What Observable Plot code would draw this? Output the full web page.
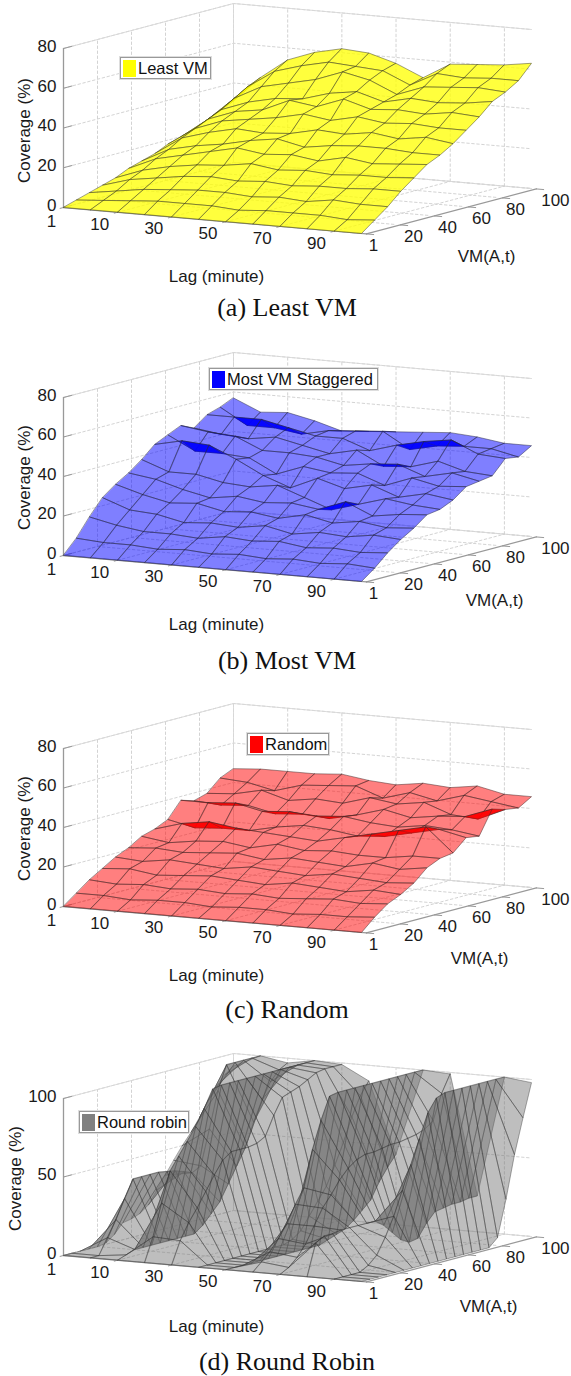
<!DOCTYPE html>
<html><head><meta charset="utf-8">
<script src="https://cdn.jsdelivr.net/npm/d3@7"></script>
<script src="https://cdn.jsdelivr.net/npm/@observablehq/plot@0.6"></script>
<style>
html,body{margin:0;padding:0;background:#fff;width:571px;height:1376px;overflow:hidden}
.panel{position:absolute;left:0;width:571px}
.panel svg{display:block;background:transparent}
.legend{position:absolute;background:#fff;border:1px solid #999;box-shadow:0 0 0 1px #ddd;font:16.5px "Liberation Sans",sans-serif;color:#111;white-space:nowrap;display:flex;align-items:center;box-sizing:border-box;padding-left:2px}
.legend i{display:inline-block;width:13px;height:17px;margin-right:2px}
.cap{position:absolute;left:0;width:574px;text-align:center;font:26px "Liberation Serif",serif;color:#111;line-height:28px}
</style></head><body>
<script>
const lagTicks = ["1","10","30","50","70","90"];
const vmTicks = ["1","20","40","60","80","100"];
const zTicksA = [0,20,40,60,80];
const zTicksD = [0,50,100];

// coverage by lag step (rows) and VM step (columns)
const leastVM = [
[0,2,4,6,8,11,13,15,18,20,22,25,28,31],
[0,3,6,10,13,17,20,24,27,30,33,37,41,44],
[0,4,8,12,16,20,23,28,32,35,38,44,50,54],
[0,5,9,14,18,23,25,31,34,37,41,47,54,59],
[0,5,10,15,19,26,28,30,36,43,42,50,57,62],
[0,5,10,14,21,24,30,31,39,41,46,55,56,61],
[0,4,9,15,19,25,27,34,37,46,48,52,55,57],
[0,5,10,14,20,23,29,33,40,42,44,46,49,51],
[0,5,9,15,19,26,30,35,38,43,47,51,56,59],
[0,5,11,15,20,24,30,33,39,42,46,52,55,60],
[0,4,10,16,20,25,29,35,38,44,47,53,56,61],
[0,5,10,16,21,26,29,33,38,43,49,52,56,63]];
const mostVM = [
[0,7,16,24,29,33,38,44,47,50,47,52,54,57],
[0,6,13,19,25,31,33,47,40,48,45,52,46,51],
[0,6,11,18,22,27,33,46,40,47,44,52,46,52],
[0,5,11,15,23,24,30,40,39,41,46,49,44,49],
[0,6,10,16,20,26,29,33,32,41,43,46,47,45],
[0,5,12,15,21,24,31,28,37,40,40,46,48,46],
[0,6,11,17,19,25,26,34,35,37,43,41,49,47],
[0,5,12,14,22,23,21,30,36,39,36,45,41,48],
[0,6,10,16,19,28,25,33,31,40,37,48,44,49],
[0,5,11,15,21,22,29,28,36,35,41,50,45,48],
[0,6,10,17,19,24,27,31,33,38,37,44,45,46],
[0,5,11,16,20,25,26,29,34,35,36,43,42,46]];
const randomVM = [
[0,5,10,14,18,21,25,27,30,38,36,38,44,47],
[0,5,9,15,17,22,23,31,27,38,35,39,43,48],
[0,4,10,13,19,21,25,33,28,39,36,42,40,48],
[0,5,9,14,18,22,26,31,28,36,33,38,44,48],
[0,5,10,15,17,23,24,30,31,37,34,40,45,49],
[0,4,9,14,19,21,27,29,33,36,33,39,46,47],
[0,5,10,13,18,23,25,28,32,37,36,43,41,46],
[0,5,9,15,17,22,26,31,30,35,40,41,45,48],
[0,4,10,14,19,21,25,34,31,34,37,43,42,47],
[0,5,11,13,18,24,25,37,34,36,39,38,46,49],
[0,5,10,15,17,22,27,40,37,35,40,37,44,46],
[0,6,11,14,18,24,27,28,34,33,45,43,42,46]];
const roundRobin = [
[0,0,0,0,0,1,5,11,12,14,18,26,34,42,50,57,65,74,82,88,92],
[0,0,10,20,32,43,43,43,43,42,41,39,37,40,62,85,100,100,100,100,100],
[0,2,4,4,4,4,4,4,4,4,8,14,20,30,40,50,65,78,88,94,97],
[0,15,35,54,62,70,78,88,99,100,100,100,100,100,100,100,100,100,100,100,100],
[0,14,24,32,41,50,58,62,62,62,63,66,78,88,90,92,95,98,99,99,99],
[0,0,0,0,0,0,0,0,0,0,0,2,6,14,22,30,42,55,70,82,90],
[0,0,0,0,0,0,0,0,0,0,0,0,2,4,6,10,15,20,30,38,45],
[0,5,10,17,25,36,45,68,85,99,100,100,100,100,100,100,100,100,100,100,100],
[0,3,8,15,25,35,42,50,56,60,62,62,63,64,64,65,66,68,72,88,99],
[0,20,23,23,24,24,24,24,24,20,14,8,5,6,14,20,21,22,22,23,23],
[0,0,0,0,3,8,18,30,45,60,75,90,98,100,100,100,100,100,100,100,100],
[0,0,0,0,0,0,0,0,0,0,0,0,0,0,0,0,5,28,55,77,98]];

const panels = [
 {top:0,   h:345, oy:207, zpx:159, zmax:80,  zt:zTicksA, grid:leastVM,   fill:"#ffff00", fo:.76, foBack:.95, line:"#3a3a20", lineOp:.65,
  name:"Least VM", swatch:"#ffff00", lg:[120,57,91,22], cap:"(a) Least VM", capY:294, ylabX:24, ylabY:130, lagY:276, vmL:[486,256]},
 {top:345, h:350, oy:210, zpx:158, zmax:80,  zt:zTicksA, grid:mostVM,    fill:"#0000ff", fo:.5,  foBack:.9,  line:"#2a2a40", lineOp:.65,
  name:"Most VM Staggered", swatch:"#0000ff", lg:[209,23,169,22], cap:"(b) Most VM", capY:302, ylabX:24, ylabY:132, lagY:279, vmL:[494,255]},
 {top:695, h:345, oy:211, zpx:158, zmax:80,  zt:zTicksA, grid:randomVM,  fill:"#ff0000", fo:.5,  foBack:.9,  line:"#402a2a", lineOp:.65,
  name:"Random", swatch:"#ff0000", lg:[247,38,82,22], cap:"(c) Random", capY:301, ylabX:24, ylabY:133, lagY:280, vmL:[479,263]},
 {top:1040,h:336, oy:215, zpx:157, zmax:100, zt:zTicksD, grid:roundRobin,fill:"#6e6e6e", fo:.45, foBack:.45, line:"#333", lineOp:.55,
  name:"Round robin", swatch:"#808080", lg:[79,71,110,22], cap:"(d) Round Robin", capY:308, ylabX:15, ylabY:138, lagY:286, vmL:[488,266]}
];

function panel(p){
  const N = p.grid[0].length-1, L = p.grid.length-1;
  const proj = (i,t,z)=>({px:63+298*i/L+170*t, py:p.oy+26*i/L-45*t-z/p.zmax*p.zpx});
  const seg = (rows,id,pts)=>pts.forEach(a=>rows.push({id,...proj(...a)}));
  const lagT = lagTicks.map((s,k)=>({s,i:k*2}));
  const vmT = vmTicks.map((s,k)=>({s,t:k/5}));

  const dash=[], solid=[], axis=[], ticks=[];
  lagT.forEach(d=>{
    seg(dash,"lf"+d.i,[[d.i,0,0],[d.i,1,0]]);
    seg(dash,"lb"+d.i,[[d.i,1,0],[d.i,1,p.zmax]]);
  });
  vmT.forEach(d=>{
    seg(dash,"vf"+d.t,[[0,d.t,0],[L,d.t,0]]);
    seg(dash,"vl"+d.t,[[0,d.t,0],[0,d.t,p.zmax]]);
  });
  p.zt.forEach(z=>{
    seg(dash,"zl"+z,[[0,0,z],[0,1,z],[L,1,z]]);
    seg(ticks,"zt"+z,[[0,0,z],[0,.05,z]]);
  });
  seg(solid,"top",[[0,0,p.zmax],[0,1,p.zmax],[L,1,p.zmax]]);
  seg(solid,"base",[[0,1,0],[L,1,0]]);
  seg(solid,"back",[[0,1,0],[0,1,p.zmax]]);
  seg(axis,"z",[[0,0,0],[0,0,p.zmax]]);
  seg(axis,"lag",[[0,0,0],[L+.18,0,0]]);
  seg(axis,"vm",[[L+.18,0,0],[L+.18,1,0]]);
  lagT.forEach(d=>seg(ticks,"tl"+d.i,[[d.i,0,0],[d.i,-.02,0]]));
  vmT.forEach(d=>seg(ticks,"tv"+d.t,[[L+.18,d.t,0],[L+.45,d.t,0]]));

  const cells=[];
  for(let i=0;i<L;i++) for(let j=N-1;j>=0;j--){
    const c=[[i,j],[i+1,j],[i+1,j+1],[i,j+1]].map(([a,b])=>proj(a,b/N,p.grid[a][b]));
    let area=0;
    c.forEach((q,k)=>{const r=c[(k+1)%4];area+=q.px*r.py-r.px*q.py;});
    const fo = area>0 ? p.foBack : p.fo;
    c.forEach(q=>cells.push({cell:i+"-"+j,fo,...q}));
  }
  const lagLab=lagT.map((d,k)=>({s:d.s,...proj(d.i,0,0),dx:k?-18:-12,dy:k?12:14}));
  const vmLab=vmT.map((d,k)=>({s:d.s,...proj(L+.18,d.t,0),dx:k==0?7:(k==5?19:13),dy:11.5}));
  const zLab=p.zt.map(z=>({s:String(z),...proj(0,0,z)}));
  const font={fontFamily:"Liberation Sans",fontSize:17,fill:"#1a1a1a"};

  const plot=Plot.plot({
    width:571,height:p.h,margin:0,
    x:{domain:[0,571],range:[0,571],axis:null},
    y:{domain:[0,p.h],range:[0,p.h],axis:null},
    marks:[
      Plot.line(dash,{x:"px",y:"py",z:"id",stroke:"#c8c8c8",strokeWidth:.8,strokeDasharray:"2.5 2.5"}),
      Plot.line(solid,{x:"px",y:"py",z:"id",stroke:"#d8d8d8",strokeWidth:.9}),
      Plot.line(axis,{x:"px",y:"py",z:"id",stroke:"#999",strokeWidth:1.3}),
      Plot.line(ticks,{x:"px",y:"py",z:"id",stroke:"#999",strokeWidth:1}),
      Plot.line(cells,{x:"px",y:"py",z:"cell",curve:"linear-closed",fill:p.fill,
        fillOpacity:{value:"fo",scale:null},stroke:p.line,strokeOpacity:p.lineOp,strokeWidth:.75}),
      Plot.text(lagLab,{x:d=>d.px+d.dx,y:d=>d.py+d.dy,text:"s",...font}),
      Plot.text(vmLab,{x:d=>d.px+d.dx,y:d=>d.py+d.dy,text:"s",...font}),
      Plot.text(zLab,{x:"px",y:"py",text:"s",textAnchor:"end",dx:-7,dy:-2,...font}),
      Plot.text(["Coverage (%)"],{x:[p.ylabX],y:[p.ylabY],text:d=>d,rotate:-90,...font}),
      Plot.text(["Lag (minute)"],{x:[216],y:[p.lagY],text:d=>d,...font}),
      Plot.text(["VM(A,t)"],{x:[p.vmL[0]],y:[p.vmL[1]],text:d=>d,...font})
    ]
  });
  const div=document.createElement("div");
  div.className="panel";div.style.top=p.top+"px";div.style.height=p.h+"px";
  div.appendChild(plot);
  const lg=document.createElement("div");lg.className="legend";
  lg.style.cssText=`left:${p.lg[0]}px;top:${p.lg[1]}px;width:${p.lg[2]}px;height:${p.lg[3]}px`;
  lg.innerHTML=`<i style="background:${p.swatch}"></i>${p.name}`;
  div.appendChild(lg);
  const cap=document.createElement("div");cap.className="cap";cap.style.top=p.capY+"px";cap.textContent=p.cap;
  div.appendChild(cap);
  document.body.appendChild(div);
}
panels.forEach(panel);
</script>
</body></html>
